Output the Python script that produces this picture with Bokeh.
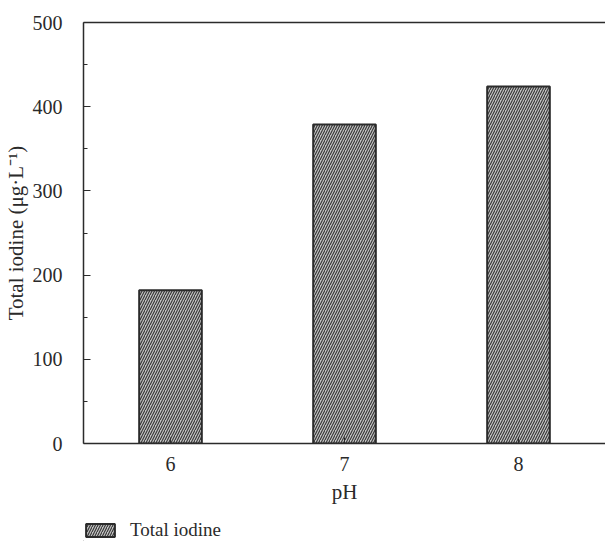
from bokeh.plotting import figure
from bokeh.layouts import column
from bokeh.models import Range1d, LinearAxis, FixedTicker, Legend, LegendItem, ColumnDataSource
from bokeh.embed import file_html
from bokeh.resources import INLINE

ph = [6, 7, 8]
total_iodine = [182, 379, 424]
y_ticks = [0, 100, 200, 300, 400, 500]
y_minor = [50, 150, 250, 350, 450]
series_name = "Total iodine"

FONT = "Liberation Serif"
TXT = "#2a2a2a"
LINE = "#2b2b2b"
BAR = dict(fill_color="#c2c2c2", line_color=LINE, line_width=2,
           hatch_pattern="right_diagonal_line", hatch_color="#333333",
           hatch_scale=5, hatch_weight=1.1)

src = ColumnDataSource(dict(x=ph, top=total_iodine))

p = figure(width=605, height=506, output_backend="svg", toolbar_location=None,
           x_range=Range1d(5.5, 8.5), y_range=Range1d(0, 500),
           min_border_left=83, min_border_top=22, min_border_right=0, min_border_bottom=63)
p.outline_line_color = None
p.grid.visible = False

r = p.vbar(x="x", top="top", width=0.36, source=src, **BAR)

xa = p.xaxis[0]
xa.ticker = FixedTicker(ticks=ph)
xa.axis_label = "pH"
xa.major_tick_in = 6
xa.major_tick_out = 0
xa.major_label_standoff = 13
xa.axis_label_standoff = 6

ya = p.yaxis[0]
ya.ticker = FixedTicker(ticks=y_ticks, minor_ticks=y_minor)
ya.axis_label = "Total iodine (μg·L⁻¹)"
ya.major_tick_in = 7
ya.major_tick_out = 0
ya.minor_tick_in = 4
ya.minor_tick_out = 0
ya.major_label_standoff = 21
ya.axis_label_standoff = 2

for ax in (xa, ya):
    ax.axis_line_color = LINE
    ax.axis_line_width = 1.5
    ax.major_tick_line_color = LINE
    ax.major_label_text_font = FONT
    ax.major_label_text_font_size = "20px"
    ax.major_label_text_color = TXT
    ax.axis_label_text_font = FONT
    ax.axis_label_text_font_size = "21px"
    ax.axis_label_text_font_style = "normal"
    ax.axis_label_text_color = TXT
xa.minor_tick_line_color = None
ya.minor_tick_line_color = LINE

top = LinearAxis(ticker=FixedTicker(ticks=[]), major_label_text_font_size="0px",
                 major_tick_line_color=None, minor_tick_line_color=None,
                 axis_line_color=LINE, axis_line_width=1.5)
p.add_layout(top, "above")

# legend strip below the chart
q = figure(width=605, height=35, output_backend="svg", toolbar_location=None,
           x_range=Range1d(0, 1), y_range=Range1d(0, 1),
           x_axis_location=None, y_axis_location=None,
           min_border_left=83, min_border_right=0,
           min_border_top=0, min_border_bottom=0)
q.grid.visible = False
q.outline_line_color = None
lr = q.vbar(x=[-5], top=[-5], bottom=[-6], width=0.1, **BAR)
legend = Legend(items=[LegendItem(label=series_name, renderers=[lr])],
                location=(-1, 0), orientation="horizontal",
                border_line_color=None, background_fill_alpha=0,
                padding=0, margin=0, glyph_width=36, glyph_height=16,
                label_text_font=FONT, label_text_font_size="19px",
                label_text_color=TXT, label_standoff=12)
q.add_layout(legend, "center")

layout = column(p, q, spacing=0)
open("out.html", "w").write(file_html(layout, INLINE))
